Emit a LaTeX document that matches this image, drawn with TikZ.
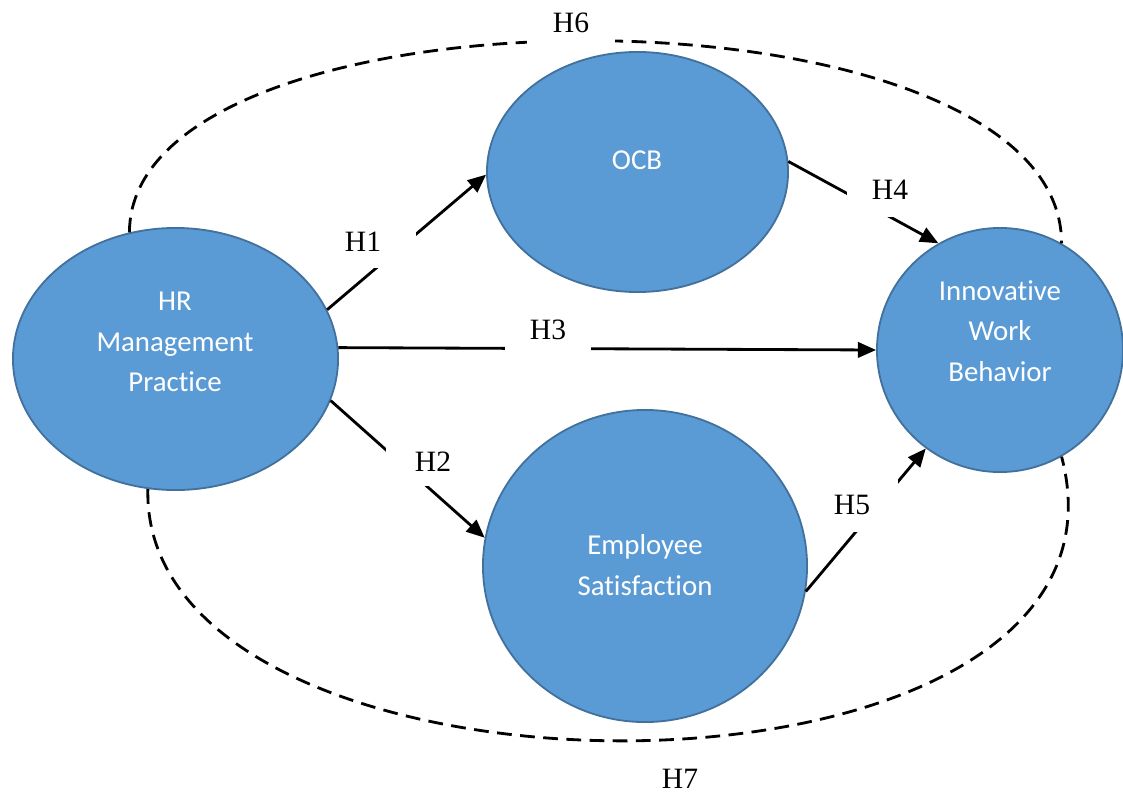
\documentclass[tikz,border=0pt]{standalone}
\usepackage{fontspec}
\setmainfont{Liberation Serif}
\newfontfamily\calibri[Ligatures=NoCommon]{Carlito}
\usetikzlibrary{shapes.geometric,arrows.meta}
\definecolor{ovalblue}{HTML}{5B9BD5}
\definecolor{ovalline}{HTML}{41719C}

\begin{document}
\begin{tikzpicture}[x=0.025cm,y=-0.025cm,
  main node/.style={ellipse,draw=ovalline,fill=ovalblue,line width=1.3pt,inner sep=0pt},
  in text/.style={text=white,font=\calibri\fontsize{20.5}{28.8}\selectfont,align=center},
  hyp/.style={fill=white,font=\fontsize{21}{25}\selectfont,inner sep=0pt},
  link/.style={line width=2pt,-{Triangle[length=13pt,width=11pt]}},
  loop line/.style={line width=2pt,dash pattern=on 10.5pt off 6pt}]

  \useasboundingbox (0,0) rectangle (1123,794);

  \node[main node,minimum width=8.125cm,minimum height=6.55cm] (hr) at (175.5,359) {};
  \node[main node,minimum width=7.525cm,minimum height=6cm] (ocb) at (637.5,172) {};
  \node[main node,minimum width=8.1cm,minimum height=7.8cm] (es) at (645,566) {};
  \node[main node,minimum width=6.15cm,minimum height=6.1cm] (iwb) at (1000,350) {};

  \node[in text] (hrt) at (175,342) {HR\\Management\\Practice};
  \node[in text] (ocbt) at (637,160) {OCB};
  \node[in text] (est) at (645,565) {Employee\\Satisfaction};
  \node[in text] (iwbt) at (1000,331) {Innovative\\Work\\Behavior};

  % hypotheses
  \draw[link] (hr.18) -- (ocb.181);
  \draw[link] (hr.-15) -- (es.170);
  \draw[link] (hr.4) -- (iwb.west);
  \draw[link] (ocb.4) -- (iwb.120);
  \draw[link] (es.-9) -- (iwb.233);
  \draw[loop line] (hr.110) .. controls (130,-25) and (1061,-25) .. (iwb.60);
  \draw[loop line] (hr.258) .. controls (140,830) and (1160,830) .. (iwb.300);

  \node[hyp,minimum width=2.65cm,minimum height=1.3cm] (h1) at (363,242) {H1};
  \node[hyp,minimum width=2.35cm,minimum height=1.2cm] (h2) at (433,462) {H2};
  \node[hyp,minimum width=2.15cm,minimum height=1.25cm] (h3) at (548,330) {H3};
  \node[hyp,minimum width=2.15cm,minimum height=1.35cm] (h4) at (890,190) {H4};
  \node[hyp,minimum width=2.3cm,minimum height=1.35cm] (h5) at (852,505) {H5};
  \node[hyp,minimum width=2.2cm,minimum height=1.1cm] (h6) at (571,23) {H6};
  \node[hyp] (h7) at (680,779) {H7};
\end{tikzpicture}
\end{document}
